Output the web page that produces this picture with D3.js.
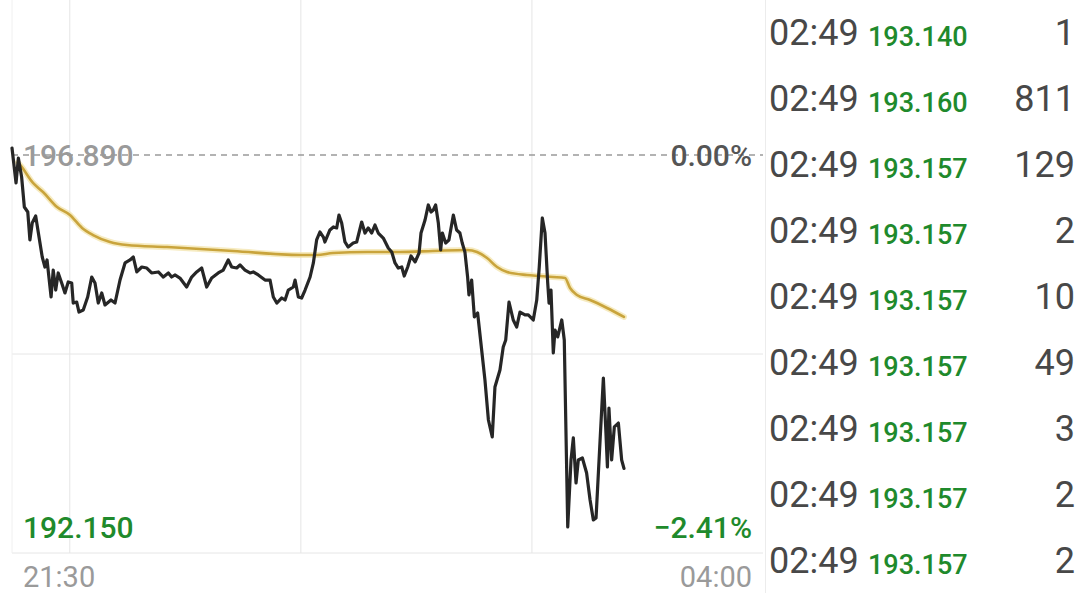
<!DOCTYPE html>
<html><head><meta charset="utf-8">
<script src="https://cdn.jsdelivr.net/npm/d3@7"></script>
<style>html,body{margin:0;padding:0;background:#fff;overflow:hidden}svg{display:block;font-family:Roboto,"Noto Sans",sans-serif}</style>
</head><body>
<svg id="c" width="1080" height="593"></svg>
<script>
// ---- data ----
const prevClose = 196.890;
const lowBound = 192.150;
const sessionMinutes = 390; // 21:30 -> 04:00
const timeLabels = ["21:30", "04:00"];
const gridMinutes = [30, 150, 270];
const pctTop = "0.00%";
const pctBottom = "\u22122.41%";

const priceMinutes = [0,2.1,3.3,5.0,6.4,8.2,9.3,10.5,12.3,13.7,15.7,17.1,18.2,20.3,21.4,22.7,24.0,25.8,27.5,29.2,31.0,31.8,33.6,34.8,37.0,39.3,41.4,43.1,44.8,46.6,48.3,51.4,53.5,56.1,58.7,61.3,63.0,64.8,67.4,70.0,72.5,76.0,78.6,81.2,82.9,84.6,87.2,90.7,93.3,95.9,98.5,101.1,103.7,107.1,109.7,112.3,114.1,116.7,118.4,121.0,123.6,125.3,127.9,131.4,134.0,135.7,137.5,140.1,141.8,143.5,146.1,147.0,148.7,150.4,152.2,154.8,156.5,158.2,159.9,161.7,162.5,165.1,166.9,168.6,169.8,171.2,172.9,174.6,177.2,179.0,181.6,183.3,185.0,186.8,188.5,190.2,192.8,195.4,197.2,198.9,200.6,202.4,203.7,205.5,207.2,209.3,211.4,212.4,214.5,216.2,217.6,218.8,220.0,221.4,222.6,223.5,225.2,226.9,229.2,230.9,232.6,233.8,235.2,236.6,237.3,238.7,240.1,241.8,243.9,245.6,247.4,249.4,250.8,253.4,255.1,256.4,258.1,260.3,262.1,263.8,266.4,268.1,270.7,272.5,273.8,275.4,276.8,278.2,278.9,279.9,281.1,282.0,283.4,285.5,286.8,288.6,290.3,291.5,292.9,294.1,296.2,298.4,300.2,301.9,303.3,305.4,307.1,308.3,309.2,310.0,311.4,312.8,314.9,316.6,317.8];
const priceValues = [196.973,196.557,196.854,196.628,196.271,196.211,195.878,196.080,196.164,195.961,195.675,195.556,195.640,195.199,195.520,195.282,195.485,195.366,195.247,195.378,195.366,195.127,195.139,195.020,195.044,195.199,195.437,195.366,195.127,195.247,195.104,195.163,195.127,195.401,195.604,195.640,195.675,195.497,195.556,195.544,195.485,195.497,195.437,195.485,195.437,195.461,195.425,195.318,195.437,195.497,195.544,195.318,195.425,195.485,195.520,195.640,195.556,195.544,195.580,195.520,195.485,195.497,195.461,195.401,195.401,195.199,195.127,195.187,195.163,195.282,195.318,195.401,195.199,195.187,195.282,195.437,195.604,195.878,195.973,195.913,195.854,195.997,196.033,196.021,196.175,196.080,195.854,195.794,195.842,195.854,196.092,195.961,196.021,195.961,196.056,195.961,195.901,195.782,195.735,195.604,195.544,195.556,195.449,195.556,195.687,195.616,195.723,195.961,196.116,196.295,196.211,196.235,196.295,196.080,195.759,195.961,195.842,195.878,196.175,195.997,195.961,195.842,195.735,195.437,195.223,195.401,194.961,195.008,194.568,194.211,193.734,193.532,194.127,194.330,194.603,194.687,195.139,194.925,194.842,195.020,194.985,194.985,194.925,195.163,195.556,196.140,195.961,195.366,195.127,195.282,194.532,194.806,194.723,194.925,194.687,192.460,193.258,193.520,192.984,193.258,193.282,193.103,192.781,192.543,192.567,193.496,194.234,193.651,193.174,193.877,193.258,193.651,193.698,193.258,193.157];

const avgMinutes = [3.0,4.2,10.9,16.1,23.4,30.1,36.4,42.1,50.9,59.7,80.5,114.8,149.6,158.4,166.7,184.4,201.5,218.6,236.3,241.5,246.7,251.9,257.1,267.4,274.2,280.9,287.2,289.8,293.4,300.2,309.0,317.8];
const avgValues = [196.80,196.771,196.557,196.449,196.271,196.176,196.021,195.937,195.854,195.818,195.794,195.747,195.699,195.699,195.723,195.735,195.735,195.747,195.759,195.735,195.663,195.556,195.497,195.461,195.449,195.437,195.425,195.306,195.223,195.163,195.068,194.961];

const tradeTimes = ["02:49","02:49","02:49","02:49","02:49","02:49","02:49","02:49","02:49"];
const tradePrices = ["193.140","193.160","193.157","193.157","193.157","193.157","193.157","193.157","193.157"];
const tradeVolumes = ["1","811","129","2","10","49","3","2","2"];

// ---- drawing ----
const svg = d3.select("#c");
const L = 12, R = 763, T = 155, B = 553;
const x = d3.scaleLinear().domain([0, sessionMinutes]).range([L, R]);
const y = d3.scaleLinear().domain([lowBound, prevClose]).range([B, T]);

const grid = "#e6e6e6";
svg.append("g").selectAll("line").data(gridMinutes).join("line")
  .attr("x1", d => x(d)).attr("x2", d => x(d)).attr("y1", 0).attr("y2", B)
  .attr("stroke", grid).attr("stroke-width", 1);
svg.append("line").attr("x1", L).attr("x2", R)
  .attr("y1", y((prevClose + lowBound) / 2)).attr("y2", y((prevClose + lowBound) / 2))
  .attr("stroke", grid);
svg.append("line").attr("x1", L).attr("x2", R).attr("y1", B).attr("y2", B).attr("stroke", grid);
svg.append("line").attr("x1", L).attr("x2", L).attr("y1", 0).attr("y2", B).attr("stroke", "#f0f0f0");
svg.append("line").attr("x1", 765.5).attr("x2", 765.5).attr("y1", 0).attr("y2", 593).attr("stroke", "#ececec");

svg.append("line").attr("x1", L).attr("x2", R).attr("y1", y(prevClose)).attr("y2", y(prevClose))
  .attr("stroke", "#9a9a9a").attr("stroke-width", 1.3).attr("stroke-dasharray", "6,5");

const avgData = avgMinutes.map((m, i) => [m, avgValues[i]]);
const line = d3.line().x(d => x(d[0])).y(d => y(d[1])).curve(d3.curveMonotoneX);
svg.append("path").datum(avgData).attr("d", line).attr("fill", "none")
  .attr("stroke", "#f2e2a6").attr("stroke-width", 6).attr("stroke-linecap", "round").attr("opacity", 0.7);
svg.append("path").datum(avgData).attr("d", line).attr("fill", "none")
  .attr("stroke", "#c9a43c").attr("stroke-width", 2.6).attr("stroke-linecap", "round");

const priceData = priceMinutes.map((m, i) => [m, priceValues[i]]);
const pline = d3.line().x(d => x(d[0])).y(d => y(d[1])).curve(d3.curveLinear);
svg.append("path").datum(priceData).attr("d", pline).attr("fill", "none")
  .attr("stroke", "#262626").attr("stroke-width", 3.2).attr("stroke-linejoin", "round").attr("stroke-linecap", "round");

const fs = 30;
svg.append("text").attr("x", 23).attr("y", y(prevClose) + 11).attr("font-size", fs)
  .attr("fill", "#9a9a9a").attr("font-weight", 500).text(prevClose.toFixed(3));
svg.append("text").attr("x", 752).attr("y", y(prevClose) + 11).attr("font-size", fs)
  .attr("text-anchor", "end").attr("fill", "#555").attr("font-weight", 500).text(pctTop);
svg.append("text").attr("x", 23).attr("y", 538).attr("font-size", fs)
  .attr("fill", "#1f8a2c").attr("font-weight", 500).text(lowBound.toFixed(3));
svg.append("text").attr("x", 752).attr("y", 538).attr("font-size", fs)
  .attr("text-anchor", "end").attr("fill", "#1f8a2c").attr("font-weight", 500).text(pctBottom);
svg.append("text").attr("x", 23).attr("y", 587).attr("font-size", 29)
  .attr("fill", "#9a9a9a").text(timeLabels[0]);
svg.append("text").attr("x", 752).attr("y", 587).attr("font-size", 29)
  .attr("text-anchor", "end").attr("fill", "#9a9a9a").text(timeLabels[1]);

const rowY = d3.scaleLinear().domain([0, 8]).range([45, 573]);
const rows = svg.append("g").selectAll("g").data(tradeTimes.map((t, i) => i)).join("g");
rows.append("text").attr("x", 769).attr("y", i => rowY(i)).attr("font-size", 36)
  .attr("fill", "#484848").text(i => tradeTimes[i]);
rows.append("text").attr("x", 868).attr("y", i => rowY(i) + 1).attr("font-size", 27)
  .attr("fill", "#1f8a2c").attr("font-weight", 500).text(i => tradePrices[i]);
rows.append("text").attr("x", 1075).attr("y", i => rowY(i)).attr("font-size", 36)
  .attr("text-anchor", "end").attr("fill", "#484848").text(i => tradeVolumes[i]);
</script>
</body></html>
